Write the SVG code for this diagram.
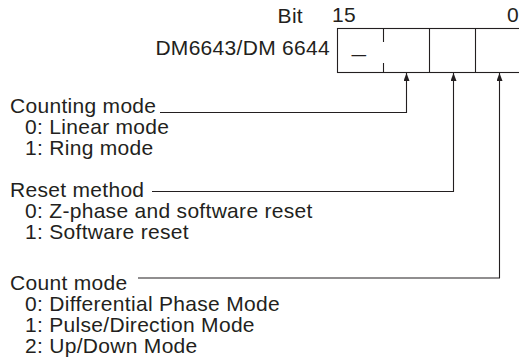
<svg xmlns="http://www.w3.org/2000/svg" width="519" height="359" viewBox="0 0 519 359">
<defs>
<style>
text{font-family:"Liberation Sans",Arial,sans-serif;font-size:21px;letter-spacing:0.3px;fill:#231f20}
.ln{fill:none;stroke:#231f20;stroke-width:1.1}
</style>
<marker id="ah" markerUnits="userSpaceOnUse" markerWidth="9" markerHeight="7" refX="8" refY="3" orient="auto">
<path d="M0,0 L8,3 L0,6 z" fill="#231f20"/>
</marker>
</defs>
<g id="header">
<text x="303" y="23" text-anchor="end">Bit</text>
<text x="332" y="22">15</text>
<text x="507" y="22">0</text>
<text x="330" y="55" text-anchor="end">DM6643/DM 6644</text>
</g>
<g id="register">
<rect class="ln" x="337.5" y="28.5" width="200" height="44"/>
<line class="ln" x1="383.5" y1="28.5" x2="383.5" y2="42"/>
<line class="ln" x1="383.5" y1="63" x2="383.5" y2="72.5"/>
<line class="ln" x1="429.5" y1="28.5" x2="429.5" y2="72.5"/>
<line class="ln" x1="475.5" y1="28.5" x2="475.5" y2="72.5"/>
<text x="351.5" y="61" textLength="15" lengthAdjust="spacingAndGlyphs">–</text>
</g>
<g id="counting-mode">
<text x="10" y="113">Counting mode</text>
<text x="25" y="134">0: Linear mode</text>
<text x="25" y="155">1: Ring mode</text>
</g>
<g id="reset-method">
<text x="10" y="197">Reset method</text>
<text x="25" y="218">0: Z-phase and software reset</text>
<text x="25" y="239">1: Software reset</text>
</g>
<g id="count-mode">
<text x="10" y="290">Count mode</text>
<text x="25" y="311">0: Differential Phase Mode</text>
<text x="25" y="332">1: Pulse/Direction Mode</text>
<text x="25" y="353">2: Up/Down Mode</text>
</g>
<g id="connectors">
<path class="ln" d="M160,112.5 H406.5 V73" marker-end="url(#ah)"/>
<path class="ln" d="M152,191.5 H453.5 V73" marker-end="url(#ah)"/>
<path class="ln" d="M138,278 H499.5 V73" marker-end="url(#ah)"/>
</g>
</svg>
